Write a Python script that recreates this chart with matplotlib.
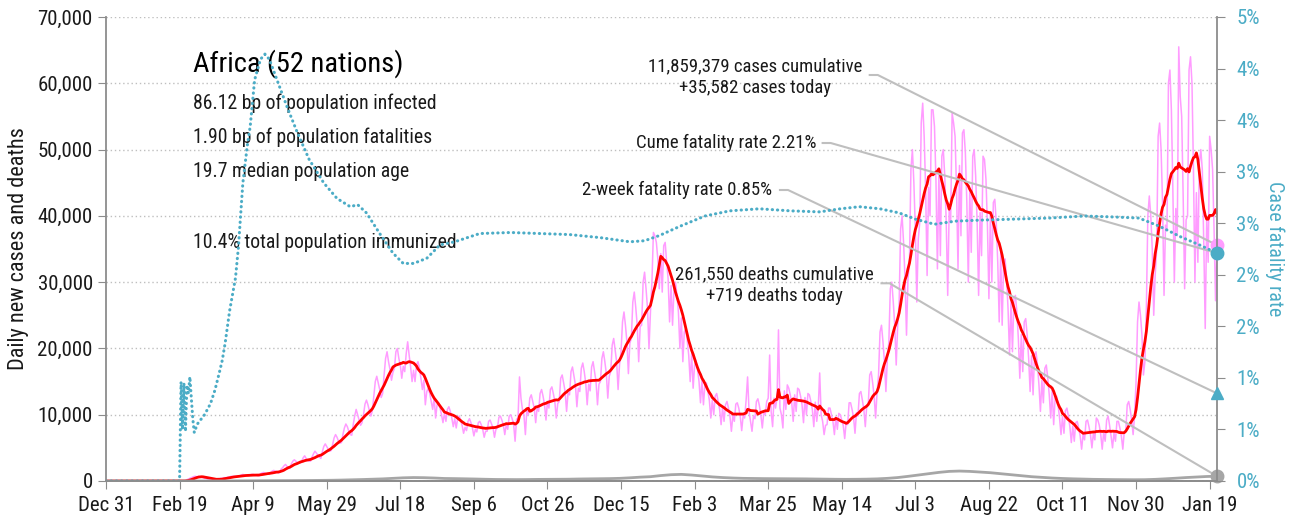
import matplotlib
matplotlib.use('Agg')
import matplotlib.pyplot as plt
import numpy as np
import pandas as pd

plt.rcParams['font.family'] = ['Roboto Condensed', 'Archivo Narrow', 'Liberation Sans Narrow', 'DejaVu Sans']

START = pd.Timestamp('2019-12-31')

# daily new cases in hundreds, one row per week (rows start on Tuesdays)
cases_daily_h = [
    0, 0, 0, 0, 0, 0, 0,
    0, 0, 0, 0, 0, 0, 0,
    0, 0, 0, 0, 0, 0, 0,
    0, 0, 0, 0, 0, 0, 0,
    0, 0, 0, 0, 0, 0, 0,
    0, 0, 0, 0, 0, 0, 0,
    0, 0, 0, 0, 0, 0, 0,
    0, 0, 0, 0, 0, 1, 2,
    3, 4, 5, 6, 7, 7, 6,
    7, 6, 6, 5, 4, 4, 3,
    3, 3, 3, 2, 2, 2, 3,
    3, 4, 4, 5, 5, 5, 6,
    6, 7, 7, 7, 7, 7, 7,
    8, 9, 10, 9, 8, 8, 8,
    9, 10, 10, 9, 9, 8, 8,
    11, 12, 13, 12, 11, 11, 10,
    13, 15, 16, 15, 14, 12, 13,
    18, 20, 23, 25, 22, 20, 19,
    26, 30, 32, 30, 28, 27, 27,
    30, 35, 38, 34, 31, 30, 30,
    36, 41, 45, 42, 39, 36, 34,
    44, 52, 56, 52, 48, 45, 46,
    55, 65, 70, 66, 60, 57, 58,
    70, 80, 86, 82, 75, 70, 69,
    85, 98, 108, 100, 92, 84, 88,
    100, 116, 122, 115, 106, 98, 106,
    128, 150, 158, 148, 138, 126, 132,
    160, 185, 195, 180, 168, 152, 164,
    170, 195, 200, 185, 175, 155, 173,
    165, 192, 210, 190, 172, 150, 167,
    150, 175, 180, 170, 155, 138, 152,
    115, 135, 140, 132, 120, 108, 125,
    95, 115, 118, 110, 100, 88, 102,
    90, 108, 112, 105, 95, 82, 94,
    80, 95, 98, 92, 84, 72, 81,
    76, 90, 94, 88, 80, 68, 78,
    74, 88, 90, 85, 78, 66, 75,
    75, 90, 92, 86, 80, 66, 78,
    80, 96, 98, 92, 85, 70, 85,
    78, 98, 100, 94, 86, 60, 93,
    95, 157, 125, 108, 100, 70, 108,
    100, 125, 130, 120, 110, 88, 111,
    105, 132, 138, 128, 115, 92, 120,
    110, 138, 142, 132, 120, 95, 117,
    120, 155, 160, 148, 135, 105, 133,
    130, 165, 172, 158, 145, 112, 140,
    135, 170, 178, 165, 148, 115, 146,
    136, 172, 180, 165, 150, 115, 146,
    150, 185, 195, 180, 162, 125, 158,
    165, 205, 215, 198, 180, 138, 176,
    195, 240, 255, 235, 210, 162, 208,
    215, 270, 285, 262, 235, 180, 233,
    235, 300, 315, 290, 260, 200, 255,
    300, 375, 370, 360, 335, 290, 343,
    285, 355, 360, 330, 305, 240, 295,
    235, 290, 300, 280, 255, 200, 246,
    180, 225, 230, 212, 190, 150, 192,
    140, 175, 182, 168, 150, 118, 152,
    115, 145, 148, 135, 122, 95, 122,
    100, 128, 132, 120, 108, 85, 111,
    90, 115, 120, 110, 98, 75, 99,
    90, 116, 118, 110, 98, 76, 99,
    95, 122, 157, 105, 90, 75, 98,
    94, 120, 124, 114, 100, 80, 103,
    100, 120, 125, 190, 105, 82, 125,
    110, 125, 228, 110, 100, 80, 136,
    108, 145, 140, 130, 118, 90, 130,
    105, 140, 138, 128, 115, 88, 126,
    100, 132, 130, 120, 108, 82, 119,
    90, 110, 163, 100, 90, 70, 84,
    85, 110, 110, 100, 90, 70, 97,
    78, 102, 100, 92, 84, 64, 89,
    85, 118, 118, 108, 96, 72, 103,
    98, 132, 135, 122, 108, 82, 114,
    115, 160, 165, 148, 128, 95, 134,
    160, 225, 235, 210, 180, 135, 185,
    210, 290, 300, 270, 235, 175, 235,
    270, 380, 400, 360, 305, 220, 305,
    330, 470, 500, 450, 380, 270, 365,
    390, 540, 570, 520, 440, 310, 443,
    400, 560, 560, 535, 455, 320, 467,
    340, 490, 500, 460, 390, 280, 410,
    390, 555, 540, 520, 440, 320, 476,
    370, 525, 530, 495, 420, 300, 440,
    345, 490, 500, 460, 390, 280, 405,
    340, 490, 485, 455, 385, 275, 405,
    300, 420, 425, 390, 330, 240, 345,
    235, 330, 335, 305, 260, 190, 270,
    195, 275, 280, 255, 215, 155, 221,
    165, 240, 245, 220, 185, 135, 189,
    130, 190, 195, 175, 145, 105, 152,
    118, 170, 175, 155, 130, 95, 137,
    85, 125, 128, 114, 95, 70, 97,
    72, 106, 110, 98, 82, 58, 83,
    60, 88, 90, 80, 68, 48, 70,
    62, 90, 92, 82, 70, 50, 72,
    62, 95, 92, 84, 70, 48, 74,
    60, 92, 98, 84, 68, 50, 73,
    60, 90, 90, 80, 68, 48, 75,
    75, 115, 120, 108, 92, 70, 99,
    150, 240, 270, 250, 220, 160, 180,
    260, 400, 430, 400, 350, 250, 311,
    350, 520, 540, 500, 420, 280, 386,
    380, 600, 620, 560, 440, 300, 411,
    370, 655, 580, 550, 430, 290, 394,
    400, 620, 640, 600, 470, 300, 435,
    330, 480, 500, 470, 360, 230, 395,
    330, 520, 500, 470, 380, 272, 355.82,
]

# average daily deaths for each of the same weeks
deaths_weekly = [
    0, 0, 0, 0, 0, 0, 0, 0, 1, 2,
    3, 8, 20, 30, 40, 50, 55, 60, 70, 80,
    95, 110, 140, 180, 220, 270, 320, 400, 480, 520,
    500, 450, 380, 360, 330, 300, 260, 230, 220, 210,
    220, 240, 250, 260, 270, 300, 320, 340, 360, 400,
    480, 580, 650, 820, 950, 1000, 900, 760, 620, 520,
    450, 400, 380, 360, 350, 340, 330, 320, 300, 280,
    260, 250, 260, 280, 320, 400, 520, 700, 900, 1100,
    1300, 1450, 1500, 1450, 1350, 1250, 1100, 950, 800, 650,
    550, 450, 380, 330, 290, 250, 230, 210, 200, 190,
    200, 250, 330, 420, 520, 600, 680, 719,
]

# cumulative case fatality rate (%), by day since Dec 31 2019
cfr_days = [0, 50, 51, 52, 53, 54, 55, 56, 57, 58, 59, 60, 62, 64, 66, 68, 71,
            74, 77, 79, 81, 84, 88, 90, 93, 96, 98, 101, 105, 108, 111, 117,
            123, 130, 138, 148, 157, 166, 171, 177, 186, 195, 202, 209, 218,
            227, 237, 254, 275, 295, 315, 336, 356, 366, 376, 390, 407, 424,
            444, 465, 485, 499, 512, 526, 539, 550, 563, 577, 594, 618, 641,
            665, 686, 702, 716, 730, 743, 755]
cfr_pct = [0.0, 0.0, 0.96, 0.50, 0.95, 0.48, 0.93, 0.85, 1.01, 0.80, 0.60, 0.47,
           0.55, 0.59, 0.62, 0.67, 0.75, 0.88, 1.05, 1.17, 1.34, 1.65, 1.97,
           2.27, 2.89, 3.25, 3.44, 3.89, 4.09, 4.14, 4.09, 3.86, 3.63, 3.38,
           3.12, 2.89, 2.74, 2.66, 2.68, 2.60, 2.40, 2.21, 2.11, 2.11, 2.16,
           2.29, 2.32, 2.40, 2.41, 2.40, 2.39, 2.36, 2.32, 2.33, 2.38, 2.47,
           2.57, 2.62, 2.64, 2.62, 2.61, 2.64, 2.66, 2.64, 2.60, 2.54, 2.49,
           2.52, 2.53, 2.54, 2.55, 2.57, 2.56, 2.55, 2.47, 2.37, 2.29, 2.21]

cases_total = 11859379
cases_today = 35582
deaths_total = 261550
deaths_today = 719
cume_cfr = 2.21
two_week_cfr = 0.85

region = 'Africa (52 nations)'
infected_bp = 86.12
fatal_bp = 1.90
median_age = 19.7
immunized_pct = 10.4

PINK = '#FF9CFF'
RED = '#FF0000'
CYAN = '#4BACC6'
GRAY = '#A6A6A6'
LINK = '#BFBFBF'
AXIS = '#8C8C8C'
INK = '#1A1A1A'


def main():
    cases = np.array(cases_daily_h) * 100
    days = np.arange(len(cases))
    cases_avg = pd.Series(cases).rolling(7, min_periods=1).mean()
    death_days = np.arange(len(deaths_weekly)) * 7 + 6
    last_day = days[-1]

    fig = plt.figure(figsize=(12.97, 5.2), dpi=100)
    ax = fig.add_axes([106 / 1297, 39 / 520, 1111 / 1297, 464 / 520])
    ax2 = ax.twinx()

    ax.set_xlim(0, last_day)
    ax.set_ylim(0, 70000)
    ax2.set_ylim(0, 4.5)

    # grid and axes styling
    ax.set_yticks(np.arange(0, 70001, 10000))
    ax.yaxis.set_major_formatter(plt.FuncFormatter(lambda v, p: f'{int(v):,}'))
    ax.grid(axis='y', color=LINK, linestyle=(0, (1, 2)), linewidth=1)
    ax.set_axisbelow(True)

    xt = np.arange(0, 751, 50)
    ax.set_xticks(xt)
    ax.set_xticklabels([f'{(START + pd.Timedelta(days=int(d))):%b} {(START + pd.Timedelta(days=int(d))).day}' for d in xt])

    ax2.set_yticks(np.arange(0, 4.51, 0.5))
    ax2.yaxis.set_major_formatter(plt.FuncFormatter(lambda v, p: f'{int(np.floor(v + 0.5 + 1e-9))}%'))

    for a in (ax, ax2):
        a.spines['top'].set_visible(False)
        for s in ('left', 'right', 'bottom'):
            a.spines[s].set_color(AXIS)
            a.spines[s].set_linewidth(1.3)
    ax.spines['right'].set_visible(False)
    ax2.spines['left'].set_visible(False)

    ax.tick_params(axis='y', length=6, color=AXIS, labelsize=15, pad=3.5, labelcolor=INK)
    ax.tick_params(axis='x', length=6, color=AXIS, labelsize=15, pad=5, labelcolor=INK)
    ax2.tick_params(axis='y', length=6, color=AXIS, labelsize=15, pad=8, labelcolor=CYAN)

    ax.text(-0.0792, 0.5, 'Daily new cases and deaths', transform=ax.transAxes,
            rotation=90, ha='center', va='center', fontsize=16, color=INK)
    ax2.text(1.0522, 0.5, 'Case fatality rate', transform=ax2.transAxes,
             rotation=270, ha='center', va='center', fontsize=14.5, color=CYAN)

    # summary block
    ax.text(0.0783, 0.899, region, transform=ax.transAxes, fontsize=20.5,
            color='black', va='center', ha='left')
    info = [(0.815, f'{infected_bp:.2f} bp of population infected'),
            (0.741, f'{fatal_bp:.2f} bp of population fatalities'),
            (0.666, f'{median_age:.1f} median population age'),
            (0.515, f'{immunized_pct:.1f}% total population immunized')]
    for yf, s in info:
        ax.text(0.0783, yf, s, transform=ax.transAxes, fontsize=14.2,
                color=INK, va='center', ha='left')

    # series
    ax.plot(days, cases, color=PINK, linewidth=1.1, zorder=2)
    ax.plot(days, cases_avg, color=RED, linewidth=2.0, zorder=3)
    ax.plot(np.r_[0, death_days], np.r_[0, deaths_weekly], color=GRAY,
            linewidth=2.0, zorder=3)
    ax2.plot(cfr_days, cfr_pct, color=CYAN, linewidth=2.2,
             linestyle=(0, (0.1, 1.6)), dash_capstyle='round', zorder=2)

    # end markers
    ax.plot([last_day], [cases_today], 'o', color=PINK, markersize=9,
            clip_on=False, zorder=6)
    ax.plot([last_day], [deaths_today], 'o', color=GRAY, markersize=9,
            clip_on=False, zorder=6)
    ax2.plot([last_day], [cume_cfr], 'o', color=CYAN, markersize=9,
             clip_on=False, zorder=6)
    ax2.plot([last_day], [two_week_cfr], '^', color=CYAN, markersize=9,
             clip_on=False, zorder=6)

    to_left = lambda y: ax.transData.inverted().transform(
        ax2.transData.transform((last_day, y)))[1]

    def link(x0, y0, y1):
        ax.plot([x0, x0 + 5.5, last_day], [y0, y0, y1], color=LINK,
                linewidth=1.5, clip_on=False, zorder=5)

    note = dict(fontsize=13.5, color=INK, va='center', linespacing=1.25)

    ax.text(441, 60900, f'{cases_total:,} cases cumulative\n+{cases_today:,} cases today',
            ha='center', **note)
    link(519, 61250, cases_today)

    ax.text(483, 50990, f'Cume fatality rate {cume_cfr:.2f}%', ha='right', **note)
    link(487, 50990, to_left(cume_cfr))

    ax.text(452.4, 43900, f'2-week fatality rate {two_week_cfr:.2f}%', ha='right', **note)
    link(458, 43900, to_left(two_week_cfr))

    ax.text(454.5, 29570, f'{deaths_total:,} deaths cumulative\n+{deaths_today:,} deaths today',
            ha='center', **note)
    link(527, 29830, deaths_today)

    fig.savefig('out.png', dpi=100)


if __name__ == '__main__':
    main()
